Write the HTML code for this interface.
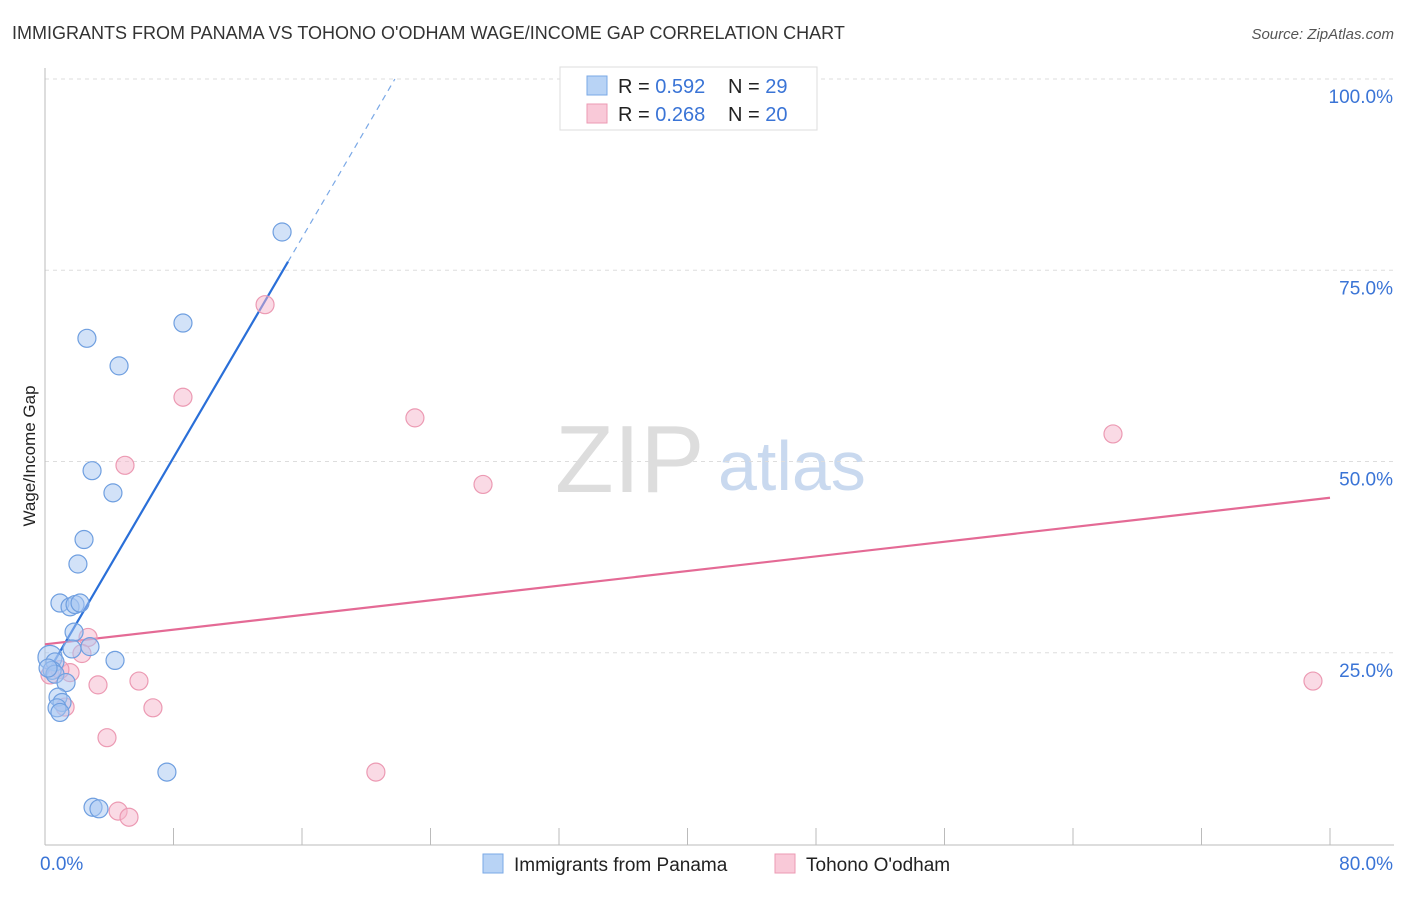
<!DOCTYPE html>
<html><head><meta charset="utf-8"><style>
body{margin:0;background:#fff;font-family:"Liberation Sans",sans-serif;}
svg text{font-family:"Liberation Sans",sans-serif;}
</style></head><body>
<svg id="chart" width="1406" height="892">
<text x="12" y="39" font-size="18" fill="#333">IMMIGRANTS FROM PANAMA VS TOHONO O'ODHAM WAGE/INCOME GAP CORRELATION CHART</text>
<text x="1394" y="39" font-size="15" fill="#555" font-style="italic" text-anchor="end">Source: ZipAtlas.com</text>
<text x="35" y="456" font-size="17" fill="#222" text-anchor="middle" transform="rotate(-90 35 456)">Wage/Income Gap</text>
<text x="555" y="492" font-size="96" fill="#ddd" font-family="Liberation Serif">ZIP</text>
<text x="718" y="490" font-size="70" fill="#c9d9ef">atlas</text>
<g id="grid"></g><g id="lines"></g><g id="pts"></g>
<g>
<rect x="560" y="67" width="257" height="63" fill="#fff" stroke="#ddd"/>
<rect x="587" y="76" width="20" height="19" fill="#b8d3f5" stroke="#7aa8e6"/>
<rect x="587" y="104" width="20" height="19" fill="#f9c9d8" stroke="#ec9ab3"/>
<text x="618" y="93" font-size="20" fill="#222">R = <tspan fill="#3a74d6">0.592</tspan><tspan x="728">N = </tspan><tspan fill="#3a74d6">29</tspan></text>
<text x="618" y="121" font-size="20" fill="#222">R = <tspan fill="#3a74d6">0.268</tspan><tspan x="728">N = </tspan><tspan fill="#3a74d6">20</tspan></text>
</g>
<g>
<rect x="483" y="854" width="20" height="19" fill="#b8d3f5" stroke="#7aa8e6"/>
<text x="514" y="871" font-size="19" fill="#222">Immigrants from Panama</text>
<rect x="775" y="854" width="20" height="19" fill="#f9c9d8" stroke="#ec9ab3"/>
<text x="806" y="871" font-size="19" fill="#222">Tohono O'odham</text>
</g>
</svg>
<script>
const yTicks=[25,50,75,100];
const xTickLabels=["0.0%","80.0%"];
const panamaX=[14.76,8.59,2.61,4.61,2.93,4.23,2.43,2.05,0.93,1.56,1.87,2.18,1.81,2.80,1.68,4.36,0.31,0.62,0.44,0.62,1.31,0.81,1.06,0.75,0.93,7.59,2.99,3.36,0.19];
const panamaY=[80.0,68.1,66.1,62.5,48.8,45.9,39.8,36.6,31.5,31.0,31.3,31.5,27.7,25.8,25.5,24.0,24.4,23.8,22.7,22.2,21.1,19.2,18.5,17.8,17.2,9.4,4.8,4.6,23.0];
const tohonoX=[13.70,8.59,23.03,66.49,4.98,27.27,78.94,2.68,2.30,1.56,0.31,3.30,5.85,6.72,1.25,3.86,20.60,4.55,5.23,0.93];
const tohonoY=[70.5,58.4,55.7,53.6,49.5,47.0,21.3,27.0,24.9,22.4,22.1,20.8,21.3,17.8,17.9,13.9,9.4,4.3,3.5,22.8];
const panamaFit=[21.8,3.59];
const tohonoFit=[26.1,0.2395];
const X=v=>45+v/80*1285, Y=v=>844-v/100*765;
const NS="http://www.w3.org/2000/svg";
function mk(tag,attrs,parent){const e=document.createElementNS(NS,tag);for(const k in attrs)e.setAttribute(k,attrs[k]);parent.appendChild(e);return e;}
const g=document.getElementById('grid');
yTicks.forEach(t=>{
 const l=mk('line',{x1:45,x2:1394,y1:Y(t),y2:Y(t),stroke:'#ddd','stroke-dasharray':'4,4'},g);
 
 
 const tx=mk('text',{x:1393,y:Y(t)+24,'font-size':19,fill:'#3a74d6','text-anchor':'end'},g);
 tx.textContent=t.toFixed(1)+'%';
 
 
});
const ax=mk('line',{x1:45,x2:45,y1:68,y2:845,stroke:'#bbb'},g);


const bx=mk('line',{x1:45,x2:1394,y1:845,y2:845,stroke:'#bbb'},g);


for(let i=0;i<=10;i++){
 const t=mk('line',{x1:X(i*8),x2:X(i*8),y1:828,y2:845,stroke:'#bbb'},g);
 
 
}
xTickLabels.forEach((s,i)=>{
 const t=mk('text',{x:i?1393:40,y:870,'font-size':19,fill:'#3a74d6','text-anchor':i?'end':'start'},g);
 t.textContent=s;
 
 
});
const L=document.getElementById('lines');
const xEnd=15.13, xTop=(100-panamaFit[0])/panamaFit[1];
const bl=mk('line',{x1:X(0),y1:Y(panamaFit[0]),x2:X(xEnd),y2:Y(panamaFit[0]+panamaFit[1]*xEnd),stroke:'#2a6fd8','stroke-width':2.2},L);


const bd=mk('line',{x1:X(xEnd),y1:Y(panamaFit[0]+panamaFit[1]*xEnd),x2:X(xTop),y2:Y(100),stroke:'#7aa8e6','stroke-width':1.2,'stroke-dasharray':'6,5'},L);


const pl=mk('line',{x1:X(0),y1:Y(tohonoFit[0]),x2:X(80),y2:Y(tohonoFit[0]+tohonoFit[1]*80),stroke:'#e46a95','stroke-width':2.2},L);


const P=document.getElementById('pts');
tohonoX.forEach((x,i)=>{
 const c=mk('circle',{cx:X(x),cy:Y(tohonoY[i]),r:9,fill:'rgba(246,182,204,0.5)',stroke:'#ec9ab3','stroke-width':1.2},P);
 
 
});
panamaX.forEach((x,i)=>{
 const c=mk('circle',{cx:X(x),cy:Y(panamaY[i]),r:i==16?12:9,fill:'rgba(165,198,242,0.5)',stroke:'#6f9fe0','stroke-width':1.2},P);
 
 
});
</script>
</body></html>
